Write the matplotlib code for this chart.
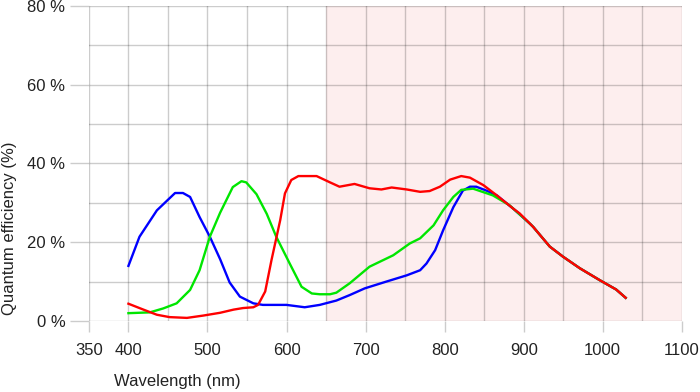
import numpy as np
import matplotlib.pyplot as plt

plt.rcParams['font.family'] = ['Liberation Sans', 'DejaVu Sans']

# Quantum efficiency curves (nm, %)
blue_nm = [400, 414, 436, 459, 469, 478, 490, 503, 516, 528, 541, 558, 570, 600, 623, 642,
           663, 680, 699, 726, 752, 769, 777, 788, 798, 811, 823, 832, 840, 853, 866, 887,
           908, 912, 933, 950, 971, 996, 1017, 1029]
blue_qe = [14.0, 21.4, 28.1, 32.5, 32.5, 31.5, 26.4, 21.4, 15.7, 9.8, 6.2, 4.5, 4.1, 4.1, 3.5, 4.1,
           5.2, 6.6, 8.3, 10.0, 11.6, 12.9, 14.6, 18.0, 23.0, 28.9, 33.1, 34.1, 34.1, 33.1, 31.9, 28.5,
           24.7, 23.9, 18.9, 16.3, 13.4, 10.4, 8.0, 5.9]

green_nm = [400, 427, 444, 461, 478, 490, 503, 516, 532, 543, 549, 562, 575, 587, 604, 619,
            632, 642, 655, 663, 680, 705, 735, 756, 769, 786, 798, 811, 821, 836, 861, 882,
            908, 912, 933, 950, 971, 996, 1017, 1029]
green_qe = [2.0, 2.2, 3.2, 4.5, 7.9, 12.9, 21.4, 27.5, 34.0, 35.5, 35.2, 32.2, 27.2, 21.4, 14.6, 8.7,
            7.0, 6.8, 6.8, 7.2, 9.6, 13.8, 16.7, 19.7, 21.0, 24.3, 28.1, 31.5, 33.3, 33.6, 31.9, 29.4,
            24.7, 23.9, 18.9, 16.3, 13.4, 10.4, 8.0, 5.9]

red_nm = [400, 419, 436, 452, 474, 495, 516, 533, 545, 558, 564, 573, 581, 592, 598, 606,
          615, 638, 655, 667, 686, 705, 720, 733, 752, 769, 781, 794, 807, 821, 832, 849,
          866, 887, 895, 912, 933, 950, 971, 996, 1017, 1029]
red_qe = [4.4, 2.9, 1.6, 1.0, 0.8, 1.4, 2.1, 2.9, 3.3, 3.5, 4.1, 7.5, 15.5, 25.6, 32.4, 35.8,
          36.8, 36.8, 35.2, 34.1, 34.8, 33.7, 33.4, 33.9, 33.4, 32.8, 33.0, 34.1, 35.9, 36.8, 36.4, 34.5,
          31.9, 28.5, 27.3, 23.9, 18.9, 16.3, 13.4, 10.4, 8.0, 5.9]

fig = plt.figure(figsize=(7, 3.92), dpi=100)
ax = fig.add_axes([0.127, 0.181, 0.847, 0.804])

ax.axvspan(650, 1100, color='#fdeeee', zorder=0, lw=0)

ax.plot(blue_nm, blue_qe, color='#0000ff', lw=1.7, zorder=3)
ax.plot(green_nm, green_qe, color='#00e600', lw=1.7, zorder=4)
ax.plot(red_nm, red_qe, color='#ff0000', lw=1.7, zorder=5)

ax.set_xlim(350, 1100)
ax.set_ylim(0, 80)
ax.set_xticks([350, 400, 500, 600, 700, 800, 900, 1000, 1100])
ax.set_xticks(np.arange(350, 1101, 50), minor=True)
ax.set_yticks([0, 20, 40, 60, 80])
ax.set_yticklabels(['0 %', '20 %', '40 %', '60 %', '80 %'])
ax.set_yticks(np.arange(0, 81, 10), minor=True)

ax.grid(True, which='both', color='k', alpha=0.2, lw=1.0, zorder=1)
ax.set_axisbelow(True)
for s in ax.spines.values():
    s.set_visible(False)
tc = '#cccccc'
ax.tick_params(axis='x', which='major', length=8, color=tc, width=1.0, labelsize=12, pad=8)
ax.tick_params(axis='y', which='major', length=14, color=tc, width=1.0, labelsize=12, pad=3)
ax.tick_params(which='minor', length=0)
for t in ax.get_xticklabels() + ax.get_yticklabels():
    t.set_color('#222222')

fig.text(0.254, 0.028, 'Wavelength (nm)', ha='center', va='center', fontsize=12, color='#222222')
fig.text(0.014, 0.418, 'Quantum efficiency (%)', ha='center', va='center', rotation=90,
         fontsize=12, color='#222222')

plt.savefig('out.png', dpi=100)
